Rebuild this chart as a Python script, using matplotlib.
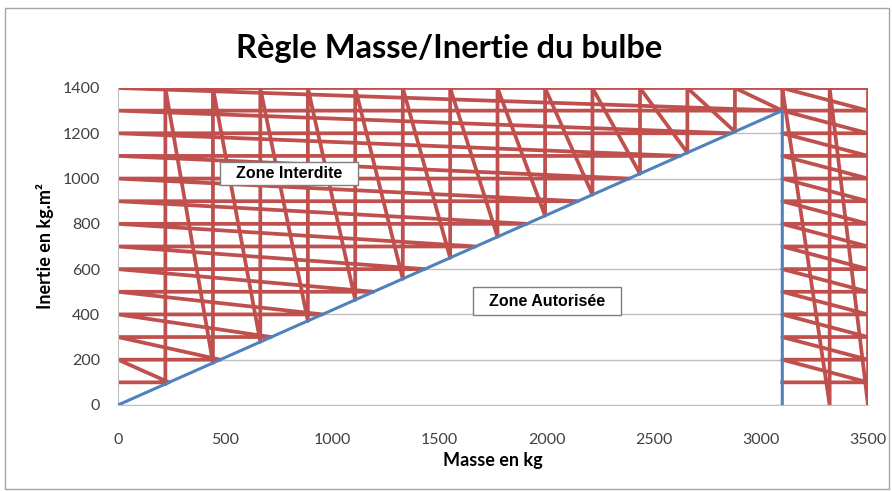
import matplotlib
matplotlib.use('Agg')
import matplotlib.pyplot as plt
from matplotlib.patches import Rectangle

# limit curve (blue)
masse_limite = [0, 3100, 3100]
inertie_limite = [0, 1300, 0]

# hatching of the forbidden zone
hachure_x = [221, 443, 664, 886, 1107, 1329, 1550, 1771, 1993, 2214, 2436, 2657, 2879, 3100]
hachure_y_bas = [93, 186, 279, 371, 464, 557, 650, 743, 836, 929, 1021, 1114, 1207, 1300]
hachure_x_droite = [3321, 3500]
niveaux = [100, 200, 300, 400, 500, 600, 700, 800, 900, 1000, 1100, 1200, 1300]
niveaux_x_limite = [238, 477, 715, 954, 1192, 1431, 1669, 1908, 2146, 2385, 2623, 2862, 3100]
y_max = 1400
x_max = 3500
x_coude = 3100

rouge = '#C0504D'
bleu = '#4F81BD'

# vertical sawtooth
vx, vy = [], []
for x, yb in zip(hachure_x, hachure_y_bas):
    vx += [x, x]
    vy += [yb, y_max]
for x in hachure_x_droite:
    vx += [x, x]
    vy += [0, y_max]

# horizontal sawtooth, left of the limit
gx, gy = [], []
for y, xb in zip(niveaux, niveaux_x_limite):
    gx += [0, xb]
    gy += [y, y]
gx += [0, x_max]
gy += [y_max, y_max]

# horizontal sawtooth, right of 3100 kg
dx, dy = [], []
for y in [y_max] + niveaux[::-1]:
    dx += [x_max, x_coude]
    dy += [y, y]
    if y > 100:
        dx += [x_max]
        dy += [y - 100]

fig = plt.figure(figsize=(8.92, 4.91), dpi=100)
ax = fig.add_axes([0.1323, 0.1752, 0.8408, 0.6456])

ax.set_yticks(range(0, 1401, 200))
ax.set_xticks(range(0, 3501, 500))
ax.grid(axis='y', color='#BFBFBF', lw=1, zorder=0)
ax.set_axisbelow(True)

ax.plot(vx, vy, color=rouge, lw=2.7, zorder=2)
ax.plot(gx, gy, color=rouge, lw=2.7, zorder=2)
ax.plot(dx, dy, color=rouge, lw=2.7, zorder=2)
ax.plot(masse_limite, inertie_limite, color=bleu, lw=2.2, zorder=3)

ax.set_xlim(0, 3500)
ax.set_ylim(0, 1400)
for s in ['top', 'right']:
    ax.spines[s].set_visible(False)
for s in ['left', 'bottom']:
    ax.spines[s].set_color('#BFBFBF')
ax.tick_params(length=0, labelsize=11.5, labelcolor='#404040')
ax.tick_params(axis='x', pad=20)
ax.tick_params(axis='y', pad=13)
for lab in ax.get_xticklabels() + ax.get_yticklabels():
    lab.set_family('Lato')

ax.set_xlabel('Masse en kg', family='Lato', fontweight='bold', fontsize=13, labelpad=4)
ax.set_ylabel('Inertie en kg.m²', family='Lato', fontweight='bold', fontsize=13, labelpad=6)
fig.text(0.504, 0.902, 'Règle Masse/Inertie du bulbe', family='Lato', fontweight='bold',
         fontsize=23.5, ha='center', va='center')

# label boxes
ax.add_patch(Rectangle((476, 972), 644, 101, facecolor='white', edgecolor='#7F7F7F', lw=1, zorder=5))
ax.text(798, 1022, 'Zone Interdite', family='Liberation Sans', fontweight='bold', fontsize=11.5,
        ha='center', va='center', zorder=6)
ax.add_patch(Rectangle((1657, 398), 691, 123, facecolor='white', edgecolor='#7F7F7F', lw=1, zorder=5))
ax.text(2002, 459, 'Zone Autorisée', family='Liberation Sans', fontweight='bold', fontsize=11.5,
        ha='center', va='center', zorder=6)

fig.patches.append(Rectangle((5 / 892, 2 / 491), 884 / 892, 481 / 491, transform=fig.transFigure,
                             fill=False, edgecolor='#A6A6A6', lw=1))

fig.savefig('out.png', dpi=100)
